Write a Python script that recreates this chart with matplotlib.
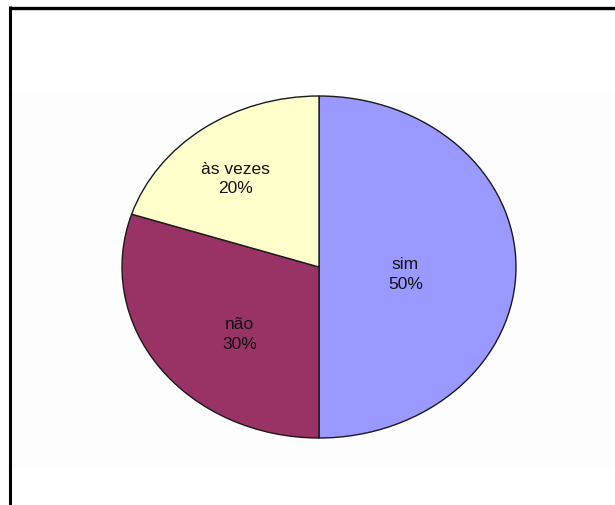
import numpy as np
import matplotlib
matplotlib.use("Agg")
import matplotlib.pyplot as plt
from matplotlib.lines import Line2D
from matplotlib.patches import Rectangle

categories = ["sim", "não", "às vezes"]
values = [50, 30, 20]
colors = ["#9999FF", "#993366", "#FFFFCC"]

# label layout: (radial distance, angle nudge in degrees) per slice
label_layout = [(0.44, -5), (0.56, 8), (0.67, 3)]

W, H = 615, 506
fig = plt.figure(figsize=(W / 100, H / 100), dpi=100)
fig.patch.set_facecolor("white")

# faint plot-area background
fig.add_artist(Rectangle((12 / W, 1 - 469 / H), (W - 12) / W, (469 - 95) / H,
                         transform=fig.transFigure, facecolor="#fdfdfd",
                         edgecolor="none", zorder=0))

ax = fig.add_axes([122 / W, 1 - 439 / H, 394 / W, 342 / H])
ax.set_facecolor("none")
wedges, _ = ax.pie(values, colors=colors, startangle=90, counterclock=False,
                   wedgeprops=dict(edgecolor="#1a1a1a", linewidth=1.0))
ax.set_aspect("auto")
ax.set_xlim(-1, 1)
ax.set_ylim(-1, 1)
ax.axis("off")

total = sum(values)
for w, cat, v, (r, nudge) in zip(wedges, categories, values, label_layout):
    mid = np.deg2rad((w.theta1 + w.theta2) / 2 + nudge)
    ax.text(r * np.cos(mid), r * np.sin(mid), f"{cat}\n{v / total * 100:.0f}%",
            ha="center", va="center", fontsize=12.5, family="Liberation Sans",
            linespacing=1.4, color="#111111")

# chart frame (top and left visible)
fig.add_artist(Line2D([9.5 / W, 1], [1 - 8.5 / H, 1 - 8.5 / H],
                      transform=fig.transFigure, color="black", linewidth=2.4,
                      solid_capstyle="butt"))
fig.add_artist(Line2D([10 / W, 10 / W], [1 - 7 / H, 0],
                      transform=fig.transFigure, color="black", linewidth=2.2,
                      solid_capstyle="butt"))

fig.savefig("out.png", dpi=100)
